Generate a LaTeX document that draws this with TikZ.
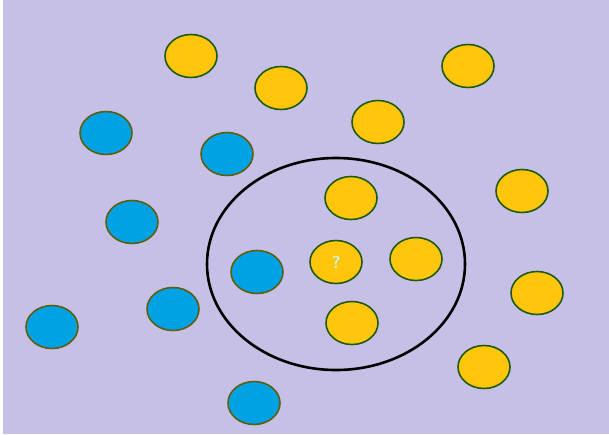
\documentclass[tikz,border=0pt]{standalone}
\usetikzlibrary{shapes.geometric}
\definecolor{lav}{HTML}{C6C0E6}
\definecolor{gold}{HTML}{FFC60B}
\definecolor{sky}{HTML}{00A2E4}
\definecolor{rimg}{HTML}{1F5A14}
\definecolor{rimb}{HTML}{5E5E0C}
\definecolor{qcol}{HTML}{D0F2E0}
\begin{document}
\begin{tikzpicture}[x=1pt,y=-1pt,
  yel/.style={ellipse,draw=rimg,line width=1.6pt,fill=gold,
              minimum width=52pt,minimum height=43pt,inner sep=0pt},
  blu/.style={ellipse,draw=rimb,line width=1.6pt,fill=sky,
              minimum width=52pt,minimum height=43pt,inner sep=0pt},
  qm/.style={font=\sffamily\bfseries\LARGE,text=qcol}]
\useasboundingbox (0,0) rectangle (609,434);
\fill[white] (0,0) rectangle (609,434);
\fill[lav] (3,0) rectangle (609,434);
% neighbourhood
\node[ellipse,draw,line width=2.6pt,minimum width=258pt,minimum height=212pt]
  (ring) at (336,264) {};
% yellow class
\foreach \n/\x/\y in {y1/191/56, y2/281/88, y3/468/66, y4/378/122,
  y5/351/198, y6/522/191, y7/416/259, y8/537/293, y9/352/323, y10/484/367}
  \node[yel] (\n) at (\x,\y) {};
% blue class
\foreach \n/\x/\y in {b1/106/133, b2/227/154, b3/132/222, b4/257/272,
  b5/173/309, b6/52/327, b7/254/403}
  \node[blu] (\n) at (\x,\y) {};
% query point
\node[yel] (query) at (336,262) {};
\node[qm] at (query) {?};
\end{tikzpicture}
\end{document}
